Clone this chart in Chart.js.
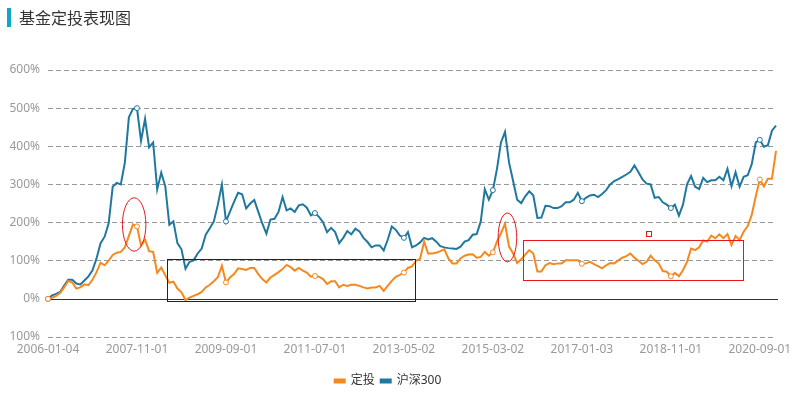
<!DOCTYPE html>
<html>
<head>
<meta charset="utf-8">
<title>基金定投表现图</title>
<script src="https://cdn.jsdelivr.net/npm/chart.js@4"></script>
<style>
body { margin: 0; background: #fff; }
#wrap { position: relative; width: 795px; height: 395px; }
#title {
    position: absolute; left: 7px; top: 8px;
    border-left: 4px solid #11a6c8; padding-left: 8px;
    font: 16px 'Noto Sans CJK SC', sans-serif; line-height: 19px; color: #333;
}
</style>
</head>
<body>
<div id="wrap">
    <canvas id="chart" width="795" height="395"></canvas>
    <div id="title">基金定投表现图</div>
</div>
<script>
// --- Data (monthly, 2006-01 .. 2021-01, cumulative return in %) ---
const tickLabels = ['2006-01-04', '2007-11-01', '2009-09-01', '2011-07-01', '2013-05-02',
                    '2015-03-02', '2017-01-03', '2018-11-01', '2020-09-01'];
const LABEL_STEP = 22;

const dingtou = [
    0, 3, 8, 15, 30, 47, 43, 27, 30, 38, 36, 50, 70, 95, 88, 100, 115, 121, 123, 135,
    165, 195, 190, 140, 155, 125, 123, 68, 82, 62, 42, 45, 27, 17, -3, 3, 8, 12, 18, 30,
    37, 46, 57, 87, 43, 56, 65, 80, 78, 76, 81, 81, 65, 52, 43, 56, 63, 70, 78, 89,
    83, 74, 81, 74, 69, 58, 60, 58, 52, 39, 46, 46, 30, 37, 34, 37, 37, 34, 30, 27,
    30, 30, 34, 21, 34, 47, 58, 63, 69, 81, 85, 100, 105, 150, 119, 119, 121, 125, 130, 106,
    93, 93, 106, 113, 116, 117, 108, 110, 123, 113, 122, 150, 172, 197, 137, 119, 94, 104, 116, 128,
    119, 72, 72, 88, 94, 91, 93, 93, 101, 101, 101, 101, 92, 93, 97, 91, 86, 80, 88, 94,
    93, 101, 108, 112, 119, 108, 100, 91, 97, 113, 101, 93, 73, 71, 59, 68, 59, 75, 97, 132,
    128, 135, 153, 150, 166, 159, 169, 159, 170, 141, 165, 154, 176, 191, 220, 269, 313, 295, 315, 315,
    388
];

const hs300 = [
    0, 9, 13, 18, 35, 50, 50, 40, 38, 48, 59, 75, 106, 146, 163, 198, 294, 304, 300, 357,
    476, 498, 500, 414, 472, 397, 410, 287, 331, 295, 194, 203, 146, 130, 79, 97, 101, 119, 132, 168,
    185, 203, 247, 300, 203, 229, 254, 278, 274, 237, 250, 259, 228, 197, 171, 208, 210, 228, 267, 232,
    237, 228, 245, 248, 239, 219, 225, 215, 201, 175, 186, 175, 146, 160, 178, 169, 184, 177, 160, 149,
    135, 140, 140, 127, 155, 190, 181, 166, 160, 175, 135, 140, 148, 160, 156, 159, 150, 138, 135, 133,
    132, 131, 137, 150, 154, 168, 170, 203, 287, 260, 285, 340, 410, 438, 357, 309, 260, 251, 269, 282,
    271, 212, 213, 244, 243, 238, 238, 243, 253, 253, 260, 278, 256, 265, 271, 273, 267, 275, 285, 300,
    309, 314, 320, 326, 333, 350, 332, 313, 302, 300, 265, 267, 253, 247, 238, 247, 218, 247, 300, 322,
    294, 288, 317, 306, 311, 311, 320, 311, 341, 295, 332, 294, 320, 324, 353, 410, 417, 399, 403, 441,
    454
];

// category labels: one per month, the shown ones carry the exact trading date
const categories = dingtou.map((_, i) => {
    const y = 2006 + Math.floor(i / 12);
    const m = String(i % 12 + 1).padStart(2, '0');
    return i % LABEL_STEP === 0 ? tickLabels[i / LABEL_STEP] : `${y}-${m}-01`;
});

// --- Annotation marks, in data units (x = month index, y = %) ---
const ellipses = [
    { x: 21.3, y: 195, rx: 2.9, ry: 70 },
    { x: 113.6, y: 161, rx: 2.3, ry: 64 }
];
const boxes = [
    { x0: 29.4, x1: 90.8, y0: 104.5, y1: -6.6, color: '#222' },
    { x0: 117.5, x1: 171.9, y0: 154.8, y1: 48.9, color: '#e8161b' },
    { x0: 147.9, x1: 149.0, y0: 178.6, y1: 164.6, color: '#e8161b' }
];

const ORANGE = '#f5891f';
const BLUE = '#21789f';
const FONT = "'Noto Sans', 'Noto Sans CJK SC', sans-serif";

// solid axis line at 0% plus the hand-drawn marks
const overlay = {
    id: 'overlay',
    beforeDatasetsDraw(chart) {
        const { ctx, chartArea, scales } = chart;
        const y0 = Math.round(scales.y.getPixelForValue(0)) + 0.5;
        ctx.save();
        ctx.strokeStyle = '#333';
        ctx.lineWidth = 1;
        ctx.beginPath();
        ctx.moveTo(chartArea.left, y0);
        ctx.lineTo(chartArea.right + 2, y0);
        ctx.stroke();
        ctx.restore();
    },
    afterDatasetsDraw(chart) {
        const { ctx, scales } = chart;
        const sx = scales.x, sy = scales.y;
        const px = v => sx.getPixelForValue(v);
        ctx.save();
        ctx.lineWidth = 1;
        ellipses.forEach(e => {
            const cx = px(e.x), cy = sy.getPixelForValue(e.y);
            const rx = Math.abs(px(e.x + e.rx) - cx);
            const ry = Math.abs(sy.getPixelForValue(e.y + e.ry) - cy);
            ctx.strokeStyle = '#e8161b';
            ctx.beginPath();
            ctx.ellipse(cx, cy, rx, ry, 0, 0, Math.PI * 2);
            ctx.stroke();
        });
        boxes.forEach(b => {
            const x0 = Math.round(px(b.x0)) + 0.5, x1 = Math.round(px(b.x1)) + 0.5;
            const y0 = Math.round(sy.getPixelForValue(b.y0)) + 0.5;
            const y1 = Math.round(sy.getPixelForValue(b.y1)) + 0.5;
            ctx.strokeStyle = b.color;
            ctx.strokeRect(x0, y0, x1 - x0, y1 - y0);
        });
        ctx.restore();
    }
};

function lineDataset(label, data, color) {
    return {
        label: label,
        data: data,
        borderColor: color,
        backgroundColor: color,
        borderWidth: 2,
        tension: 0,
        pointRadius: ctx => (ctx.index % LABEL_STEP === 0 ? 2.5 : 0),
        pointBackgroundColor: '#fff',
        pointBorderColor: color,
        pointBorderWidth: 1,
        pointHoverRadius: 0
    };
}

new Chart(document.getElementById('chart'), {
    type: 'line',
    data: {
        labels: categories,
        datasets: [
            lineDataset('定投', dingtou, ORANGE),
            lineDataset('沪深300', hs300, BLUE)
        ]
    },
    options: {
        responsive: false,
        animation: false,
        layout: { padding: { top: 70, right: 19, bottom: -2, left: 0 } },
        plugins: {
            tooltip: { enabled: false },
            legend: {
                position: 'bottom',
                labels: {
                    boxWidth: 10,
                    boxHeight: 3,
                    padding: 6,
                    color: '#333',
                    font: { family: FONT, size: 12 }
                }
            }
        },
        scales: {
            x: {
                afterFit: scale => { scale.height = 32; },
                grid: { display: false, drawTicks: false },
                border: { display: false },
                ticks: {
                    autoSkip: false,
                    maxRotation: 0,
                    padding: 5,
                    color: '#999',
                    font: { family: FONT, size: 12 },
                    callback: (v, i) => (i % LABEL_STEP === 0 ? categories[i] : '')
                }
            },
            y: {
                min: -100,
                max: 600,
                afterFit: scale => { scale.width = 48; },
                grid: {
                    drawTicks: false,
                    color: ctx => (ctx.tick && ctx.tick.value === 0 ? 'rgba(0,0,0,0)' : '#999')
                },
                border: { display: false, dash: [5, 3] },
                ticks: {
                    stepSize: 100,
                    padding: 8,
                    color: '#999',
                    font: { family: FONT, size: 12 },
                    callback: v => Math.abs(v) + '%'
                }
            }
        }
    },
    plugins: [overlay]
});
</script>
</body>
</html>
